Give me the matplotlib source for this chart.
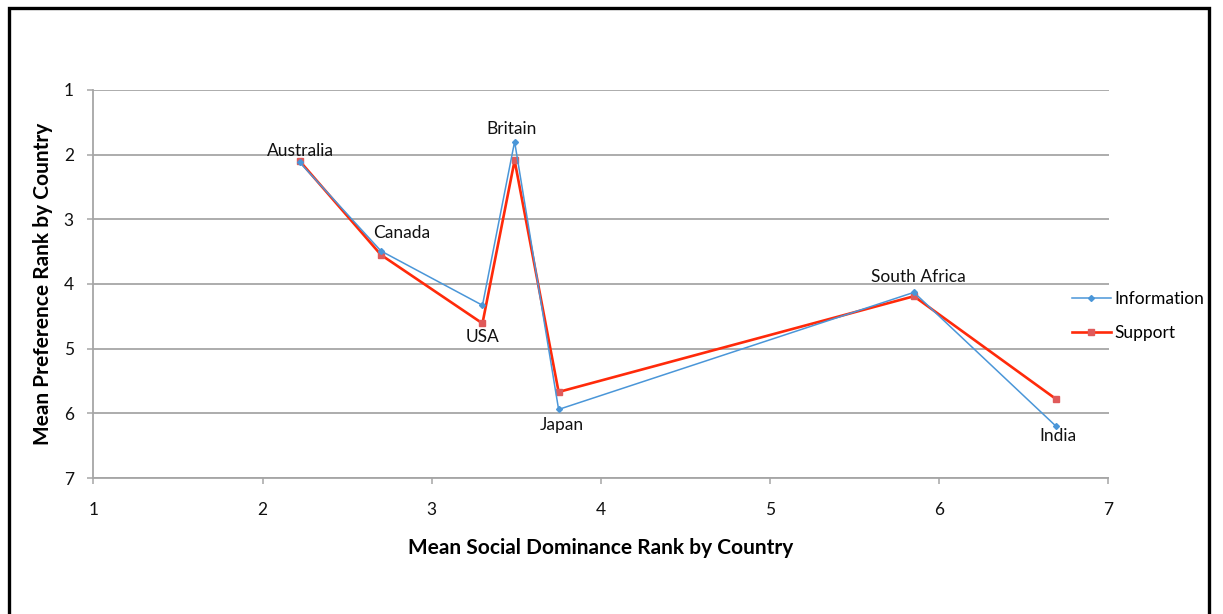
import matplotlib
matplotlib.use("Agg")
import matplotlib.pyplot as plt
from matplotlib.patches import Rectangle

plt.rcParams['font.family'] = ['Lato', 'DejaVu Sans']

# Country means: social dominance rank (x) vs. preference rank (y)
countries = ["Australia", "Canada", "USA", "Britain", "Japan", "South Africa", "India"]
social_dominance = [2.22, 2.70, 3.30, 3.49, 3.75, 5.85, 6.69]
information_rank = [2.12, 3.49, 4.33, 1.80, 5.94, 4.13, 6.20]
support_rank = [2.10, 3.55, 4.61, 2.09, 5.67, 4.19, 5.78]
axis_ticks = [1, 2, 3, 4, 5, 6, 7]

# label offsets (points) relative to the Information marker
label_offsets = [(0.5, 8.5), (15, 13), (0, -23), (-2, 9), (2, -11), (3, 11), (1.5, -7)]

W, H = 1223, 614
fig = plt.figure(figsize=(W / 100, H / 100), dpi=100)
ax = fig.add_axes([93.3 / W, (H - 478) / H, (1108.5 - 93.3) / W, (478 - 89.9) / H])

grid_c = "#a6a6a6"
blue = "#4a96d8"
red = "#ff2a0a"

ax.plot(social_dominance, information_rank, color=blue, lw=1.1, marker="D",
        markersize=3, markerfacecolor=blue, markeredgecolor=blue,
        label="Information", zorder=4)
ax.plot(social_dominance, support_rank, color=red, lw=1.9, marker="s",
        markersize=4.5, markerfacecolor="#e05a5a", markeredgecolor="#e05a5a",
        label="Support", zorder=3)

for name, x, y, (dx, dy) in zip(countries, social_dominance, information_rank, label_offsets):
    ax.annotate(name, (x, y), xytext=(dx, dy), textcoords="offset points",
                ha="center", va="center", fontsize=12.5, color="#111111", zorder=5)

ax.set_xlim(1, 7)
ax.set_ylim(7, 1)
ax.set_xticks(axis_ticks)
ax.set_yticks(axis_ticks)
ax.yaxis.grid(True, color=grid_c, lw=1.3)
ax.set_axisbelow(True)
for s in ["top", "right"]:
    ax.spines[s].set_visible(False)
for s in ["left", "bottom"]:
    ax.spines[s].set_color(grid_c)
    ax.spines[s].set_linewidth(1.3)
ax.tick_params(axis="both", colors=grid_c, length=4, width=1.1, labelsize=12.5,
               labelcolor="#111111")
ax.tick_params(axis="x", pad=13)
ax.tick_params(axis="y", pad=10)

ax.set_xlabel("Mean Social Dominance Rank by Country", fontsize=15, fontweight="bold",
              labelpad=15)
ax.set_ylabel("Mean Preference Rank by Country", fontsize=15, fontweight="bold",
              labelpad=8)

leg = ax.legend(loc="center left", bbox_to_anchor=(1068 / W, (H - 316) / H),
                bbox_transform=fig.transFigure, frameon=True, fancybox=False,
                fontsize=12.5, handlelength=2.2, handletextpad=0.2,
                labelspacing=1.0, borderpad=0.25, borderaxespad=0)
leg.get_frame().set_facecolor("white")
leg.get_frame().set_edgecolor("none")
leg.get_frame().set_alpha(1)
leg.set_zorder(10)

# outer frame around the chart area
fig.patches.append(Rectangle((8.5 / W, -0.05), (1209 - 8.5) / W, 1.05 - 7.5 / H,
                             transform=fig.transFigure, fill=False,
                             edgecolor="black", lw=2.4, zorder=20))

fig.savefig("out.png", dpi=100, facecolor="white")
